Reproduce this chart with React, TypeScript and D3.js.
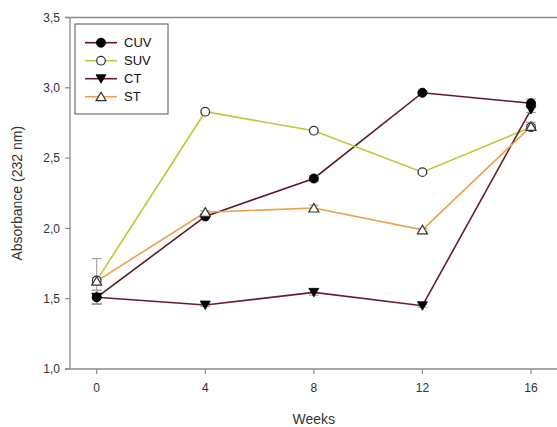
import React from 'react'
import * as d3 from 'd3'

const weeks = [0, 4, 8, 12, 16]
const yTicks = [1.0, 1.5, 2.0, 2.5, 3.0, 3.5]

const cuv = [1.51, 2.085, 2.355, 2.965, 2.89]
const suv = [1.63, 2.83, 2.695, 2.40, 2.72]
const ct = [1.51, 1.455, 1.545, 1.45, 2.845]
const st = [1.625, 2.115, 2.145, 1.99, 2.725]

// error bar half-widths (mostly tiny)
const cuvErr = [0.05, 0.01, 0.02, 0.01, 0.03]
const suvErr = [0.02, 0.01, 0.01, 0.01, 0.02]
const ctErr = [0.05, 0.01, 0.02, 0.01, 0.02]
const stErr = [0.16, 0.01, 0.02, 0.01, 0.03]

type Marker = 'circleFilled' | 'circleOpen' | 'triDown' | 'triUp'

const series = [
  { name: 'CUV', values: cuv, err: cuvErr, color: '#5c1a1f', marker: 'circleFilled' as Marker },
  { name: 'SUV', values: suv, err: suvErr, color: '#b8cc3c', marker: 'circleOpen' as Marker },
  { name: 'CT', values: ct, err: ctErr, color: '#6a1d26', marker: 'triDown' as Marker },
  { name: 'ST', values: st, err: stErr, color: '#eda04a', marker: 'triUp' as Marker },
]

const W = 557
const H = 427
const left = 70
const top = 17.5
const bottom = 369

const x = d3.scaleLinear().domain([0, 16]).range([96.7, 531])
const y = d3.scaleLinear().domain([1, 3.5]).range([bottom, top])

const font = 'Arial, "Liberation Sans", sans-serif'
const axisColor = '#8a8a8a'

function Symbol({ kind, cx, cy }: { kind: Marker; cx: number; cy: number }) {
  if (kind === 'circleFilled') return <circle cx={cx} cy={cy} r={4.5} fill="#000" stroke="#000" strokeWidth={1} />
  if (kind === 'circleOpen') return <circle cx={cx} cy={cy} r={4.3} fill="#fff" stroke="#333" strokeWidth={1.2} />
  const s = 5
  if (kind === 'triDown')
    return <path d={`M${cx - s},${cy - s * 0.8} L${cx + s},${cy - s * 0.8} L${cx},${cy + s * 0.9} Z`} fill="#000" stroke="#000" strokeWidth={0.8} />
  return <path d={`M${cx - s},${cy + s * 0.8} L${cx + s},${cy + s * 0.8} L${cx},${cy - s * 0.9} Z`} fill="#fff" stroke="#333" strokeWidth={1.2} />
}

export default function App() {
  const line = d3
    .line<number>()
    .x((_, i) => x(weeks[i]))
    .y((d) => y(d))

  return (
    <svg width={W} height={H} style={{ position: 'absolute', left: 0, top: 0, background: '#fff' }}>
      {/* frame */}
      <line x1={65} x2={W} y1={top} y2={top} stroke={axisColor} strokeWidth={1.3} />
      <line x1={left} x2={left} y1={top} y2={bottom} stroke={axisColor} strokeWidth={1.3} />
      <line x1={65} x2={W} y1={bottom} y2={bottom} stroke={axisColor} strokeWidth={1.3} />

      {/* y axis ticks */}
      {yTicks.map((t) => (
        <g key={t}>
          <line x1={65} x2={left} y1={y(t)} y2={y(t)} stroke={axisColor} strokeWidth={1.2} />
          <text x={60} y={y(t)} dy="0.35em" textAnchor="end" fontFamily={font} fontSize={12} fill="#333">
            {t.toFixed(1).replace('.', ',')}
          </text>
        </g>
      ))}

      {/* x axis ticks */}
      {weeks.map((w) => (
        <g key={w}>
          <line x1={x(w)} x2={x(w)} y1={bottom} y2={bottom + 5} stroke={axisColor} strokeWidth={1.2} />
          <text x={x(w)} y={bottom + 23} textAnchor="middle" fontFamily={font} fontSize={12} fill="#333">
            {w}
          </text>
        </g>
      ))}

      <text x={x(8)} y={H - 3} textAnchor="middle" fontFamily={font} fontSize={14} fill="#333">
        Weeks
      </text>
      <text
        transform={`translate(22,${y(2.25)}) rotate(-90)`}
        textAnchor="middle"
        fontFamily={font}
        fontSize={14}
        fill="#333"
      >
        Absorbance (232 nm)
      </text>

      {/* lines */}
      {series.map((s) => (
        <path key={s.name} d={line(s.values) ?? ''} fill="none" stroke={s.color} strokeWidth={1.6} />
      ))}

      {/* error bars */}
      {series.map((s) =>
        s.values.map((v, i) => (
          <g key={s.name + i} stroke="#999" strokeWidth={1}>
            <line x1={x(weeks[i])} x2={x(weeks[i])} y1={y(v + s.err[i])} y2={y(v - s.err[i])} />
            <line x1={x(weeks[i]) - 5} x2={x(weeks[i]) + 5} y1={y(v + s.err[i])} y2={y(v + s.err[i])} />
            <line x1={x(weeks[i]) - 5} x2={x(weeks[i]) + 5} y1={y(v - s.err[i])} y2={y(v - s.err[i])} />
          </g>
        ))
      )}

      {/* markers */}
      {series.map((s) =>
        s.values.map((v, i) => <Symbol key={s.name + 'm' + i} kind={s.marker} cx={x(weeks[i])} cy={y(v)} />)
      )}

      {/* legend */}
      <rect x={75} y={24} width={93} height={90} fill="#fff" stroke="#555" strokeWidth={1} />
      {series.map((s, i) => {
        const ly = 42.7 + i * 18
        return (
          <g key={s.name + 'leg'}>
            <line x1={85} x2={117} y1={ly} y2={ly} stroke={s.color} strokeWidth={1.6} />
            <Symbol kind={s.marker} cx={101} cy={ly} />
            <text x={124} y={ly} dy="0.35em" fontFamily={font} fontSize={13} fill="#111">
              {s.name}
            </text>
          </g>
        )
      })}
    </svg>
  )
}
